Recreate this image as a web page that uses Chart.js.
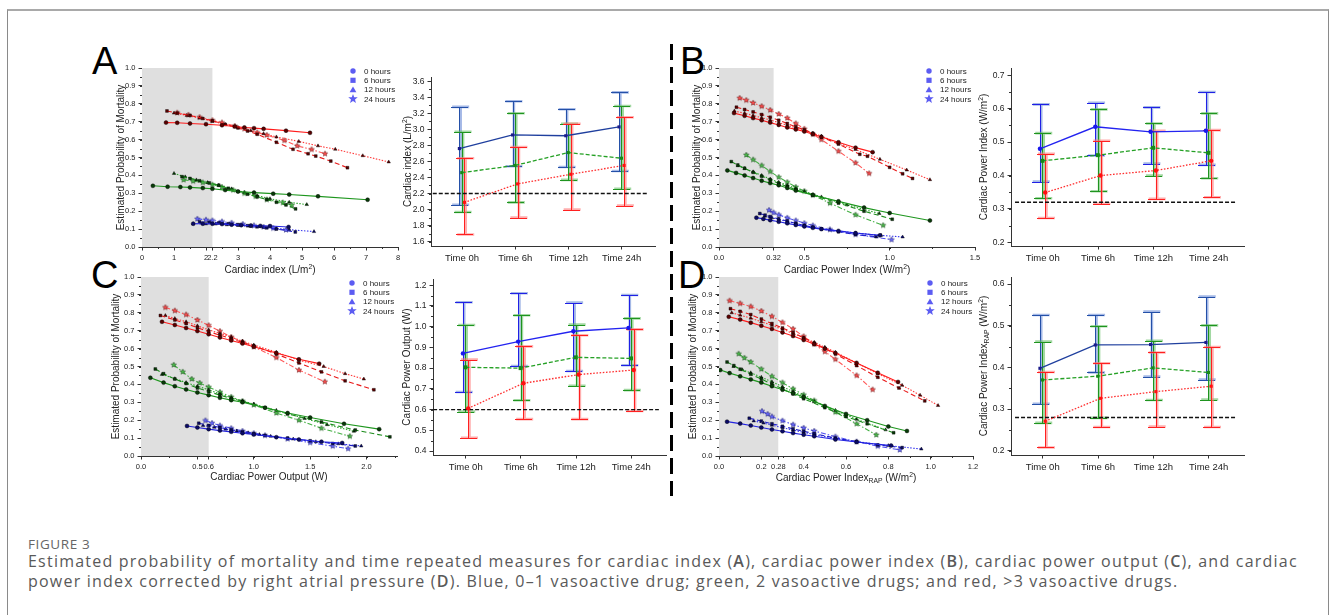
<!DOCTYPE html>
<html><head><meta charset="utf-8">
<script src="https://cdn.jsdelivr.net/npm/chart.js@4/dist/chart.umd.min.js"></script>
<style>
body{margin:0;width:1331px;height:615px;overflow:hidden;background:#fff;position:relative;font-family:'Liberation Sans',Arial,sans-serif}
#frame{position:absolute;left:7px;top:9px;width:1322px;height:660px;border:1px solid #8a8a8a;border-top:2px solid #a9a9a9;box-sizing:border-box}
canvas{position:absolute}
.letter{position:absolute;font-family:'Liberation Sans',Arial,sans-serif;font-size:38px;line-height:38px;color:#000}
#divider{position:absolute;left:670px;top:44px;width:3px;height:452px;background:repeating-linear-gradient(to bottom,#000 0 16px,transparent 16px 23px)}
#fig{position:absolute;left:28px;top:538px;font-family:'Open Sans',sans-serif;font-size:13.5px;line-height:13px;color:#666;letter-spacing:0.6px}
#cap{position:absolute;left:28px;top:551px;width:1300px;font-family:'Open Sans',sans-serif;font-size:16px;line-height:20px;color:#595959;white-space:nowrap;letter-spacing:1.22px}
#cap b{font-weight:600}
</style></head>
<body>
<div id="frame"></div>
<div class="letter" style="left:92px;top:42px">A</div>
<div class="letter" style="left:680px;top:42px">B</div>
<div class="letter" style="left:91px;top:256px">C</div>
<div class="letter" style="left:678px;top:256px">D</div>
<div id="divider"></div>
<div id="fig">FIGURE 3</div>
<div id="cap">Estimated probability of mortality and time repeated measures for cardiac index (<b>A</b>), cardiac power index (<b>B</b>), cardiac power output (<b>C</b>), and cardiac<br>power index corrected by right atrial pressure (<b>D</b>). Blue, 0–1 vasoactive drug; green, 2 vasoactive drugs; and red, &gt;3 vasoactive drugs.</div>
<script>
// ---------------- shared labels ----------------
const HOURS_LABELS = ['0 hours','6 hours','12 hours','24 hours'];
const TIME_LABELS = ['Time 0h','Time 6h','Time 12h','Time 24h'];
const TIME_X = [0,1,2,3];
const SCATTER_YTICKS = [0,0.1,0.2,0.3,0.4,0.5,0.6,0.7,0.8,0.9,1.0];
const SCATTER_YTITLE = [{t:'Estimated Probability of Mortality'}];

// ---------------- Panel A ----------------
const A_XTICKS = [0,1,2,2.2,3,4,5,6,7,8];
const A_XTICK_LABELS = ['0','1','2','2.2','3','4','5','6','7','8'];
const A_THRESHOLD = 2.2;
const A_XTITLE = [{t:'Cardiac index (L/m'},{t:'2',sup:1},{t:')'}];
// each: [0h, 6h, 12h, 24h] lines of [x, probability]
const A_RED = [
 [[0.75,0.695],[1.1,0.694],[1.5,0.69],[2.0,0.686],[2.5,0.68],[2.9,0.673],[3.2,0.668],[3.5,0.664],[3.8,0.66],[4.5,0.65],[5.25,0.638]],
 [[0.78,0.76],[1.1,0.748],[1.5,0.735],[1.9,0.718],[2.2,0.705],[2.6,0.685],[3.0,0.665],[3.3,0.648],[3.6,0.63],[4.2,0.585],[4.72,0.546],[5.19,0.521],[5.43,0.508],[5.9,0.48],[6.42,0.443]],
 [[1.0,0.748],[1.4,0.735],[1.8,0.72],[2.2,0.702],[2.6,0.685],[3.0,0.668],[3.4,0.65],[3.8,0.633],[4.2,0.615],[4.9,0.59],[5.5,0.565],[6.04,0.546],[6.9,0.51],[7.71,0.475]],
 [[1.1,0.75],[1.45,0.738],[1.8,0.725],[2.2,0.708],[2.5,0.695],[2.9,0.676],[3.2,0.66],[3.6,0.64],[3.9,0.625],[4.45,0.595],[4.85,0.565],[5.3,0.545],[5.72,0.521]]
];
const A_GREEN = [
 [[0.34,0.342],[0.8,0.337],[1.2,0.335],[1.5,0.333],[1.9,0.329],[2.2,0.325],[2.6,0.318],[3.0,0.31],[3.5,0.304],[4.1,0.298],[4.6,0.293],[5.5,0.283],[7.05,0.264]],
 [[1.25,0.393],[1.5,0.383],[1.8,0.37],[2.1,0.358],[2.4,0.345],[2.7,0.328],[3.0,0.31],[3.3,0.295],[3.6,0.28],[3.9,0.265],[4.2,0.25],[4.5,0.235],[4.8,0.213]],
 [[1.0,0.411],[1.35,0.392],[1.7,0.375],[2.05,0.36],[2.4,0.345],[2.8,0.325],[3.2,0.305],[3.6,0.287],[4.0,0.27],[4.6,0.25],[5.15,0.237]],
 [[1.3,0.375],[1.6,0.368],[1.9,0.36],[2.2,0.348],[2.5,0.335],[2.85,0.318],[3.2,0.3],[3.55,0.283],[3.9,0.265],[4.4,0.248],[4.68,0.234]]
];
const A_BLUE = [
 [[1.6,0.13],[1.9,0.13],[2.2,0.13],[2.5,0.128],[2.8,0.125],[3.1,0.122],[3.4,0.12],[3.7,0.118],[4.0,0.117],[4.58,0.112]],
 [[1.8,0.14],[2.1,0.138],[2.4,0.135],[2.7,0.13],[3.0,0.125],[3.3,0.119],[3.6,0.113],[3.9,0.107],[4.2,0.1],[4.79,0.084]],
 [[1.6,0.13],[2.0,0.129],[2.3,0.128],[2.65,0.124],[3.0,0.12],[3.4,0.115],[3.8,0.11],[4.2,0.104],[4.6,0.097],[5.375,0.086]],
 [[1.73,0.157],[2.0,0.152],[2.2,0.148],[2.5,0.142],[2.8,0.135],[3.15,0.128],[3.5,0.12],[3.8,0.112],[4.1,0.105],[4.5,0.095]]
];
const A_YTICKS = [1.6,1.8,2.0,2.2,2.4,2.6,2.8,3.0,3.2,3.4,3.6];
const A_YTITLE = [{t:'Cardiac index (L/m'},{t:'2',sup:1},{t:')'}];
const A_REF = 2.2;
const A_MEAN_BLUE = [2.76,2.93,2.92,3.03], A_LO_BLUE = [2.06,2.54,2.53,2.48], A_HI_BLUE = [3.28,3.35,3.25,3.46];
const A_MEAN_GREEN = [2.46,2.55,2.71,2.64], A_LO_GREEN = [1.97,2.09,2.37,2.26], A_HI_GREEN = [2.97,3.20,3.07,3.29];
const A_MEAN_RED = [2.09,2.32,2.44,2.55], A_LO_RED = [1.69,1.90,2.00,2.05], A_HI_RED = [2.64,2.78,3.07,3.15];

// ---------------- Panel B ----------------
const B_XTICKS = [0,0.32,0.5,1.0,1.5];
const B_XTICK_LABELS = ['0.0','0.32','0.5','1.0','1.5'];
const B_THRESHOLD = 0.32;
const B_XTITLE = [{t:'Cardiac Power Index (W/m'},{t:'2',sup:1},{t:')'}];
const B_RED = [
 [[0.088,0.748],[0.15,0.733],[0.2,0.72],[0.25,0.708],[0.3,0.695],[0.35,0.682],[0.4,0.668],[0.45,0.657],[0.5,0.645],[0.55,0.63],[0.6,0.615],[0.7,0.585],[0.8,0.555],[0.9,0.53]],
 [[0.102,0.781],[0.15,0.768],[0.2,0.755],[0.25,0.74],[0.3,0.725],[0.35,0.708],[0.4,0.69],[0.45,0.672],[0.5,0.655],[0.55,0.635],[0.6,0.615],[0.7,0.575],[0.825,0.518],[0.87,0.507],[1.0,0.445],[1.076,0.409],[1.134,0.383]],
 [[0.09,0.76],[0.15,0.747],[0.2,0.735],[0.25,0.722],[0.3,0.71],[0.35,0.695],[0.4,0.68],[0.45,0.665],[0.5,0.65],[0.55,0.635],[0.6,0.62],[0.7,0.58],[0.8,0.545],[0.943,0.49],[1.1,0.43],[1.236,0.376]],
 [[0.121,0.832],[0.16,0.82],[0.2,0.805],[0.25,0.786],[0.3,0.765],[0.35,0.743],[0.4,0.72],[0.45,0.69],[0.5,0.66],[0.55,0.63],[0.6,0.6],[0.7,0.535],[0.8,0.47],[0.88,0.411]]
];
const B_GREEN = [
 [[0.049,0.428],[0.1,0.414],[0.15,0.4],[0.2,0.385],[0.25,0.37],[0.3,0.357],[0.35,0.345],[0.4,0.33],[0.45,0.315],[0.55,0.29],[0.7,0.255],[0.85,0.22],[1.0,0.19],[1.236,0.148]],
 [[0.072,0.477],[0.11,0.458],[0.15,0.44],[0.2,0.417],[0.25,0.395],[0.3,0.375],[0.35,0.355],[0.4,0.337],[0.45,0.32],[0.55,0.29],[0.7,0.245],[0.85,0.2],[1.015,0.155]],
 [[0.111,0.454],[0.15,0.438],[0.2,0.42],[0.25,0.4],[0.3,0.38],[0.35,0.362],[0.4,0.345],[0.45,0.327],[0.5,0.31],[0.6,0.28],[0.75,0.235],[0.939,0.187]],
 [[0.16,0.514],[0.2,0.488],[0.25,0.455],[0.3,0.422],[0.35,0.39],[0.4,0.362],[0.45,0.335],[0.5,0.312],[0.55,0.29],[0.65,0.245],[0.8,0.18],[0.962,0.121]]
];
const B_BLUE = [
 [[0.219,0.164],[0.26,0.157],[0.3,0.15],[0.35,0.141],[0.4,0.132],[0.45,0.123],[0.5,0.115],[0.55,0.107],[0.6,0.1],[0.7,0.09],[0.8,0.078],[0.943,0.065]],
 [[0.239,0.187],[0.27,0.178],[0.3,0.17],[0.35,0.157],[0.4,0.145],[0.45,0.132],[0.5,0.12],[0.55,0.11],[0.6,0.1],[0.7,0.085],[0.8,0.07],[0.92,0.058]],
 [[0.268,0.172],[0.31,0.163],[0.35,0.155],[0.4,0.142],[0.45,0.13],[0.5,0.12],[0.55,0.11],[0.65,0.095],[0.8,0.078],[0.95,0.065],[1.076,0.056]],
 [[0.293,0.206],[0.32,0.192],[0.35,0.18],[0.4,0.163],[0.45,0.148],[0.5,0.133],[0.55,0.12],[0.65,0.098],[0.8,0.07],[1.011,0.041]]
];
const B_YTICKS = [0.2,0.3,0.4,0.5,0.6,0.7];
const B_YTITLE = [{t:'Cardiac Power Index (W/m'},{t:'2',sup:1},{t:')'}];
const B_REF = 0.32;
const B_MEAN_BLUE = [0.480,0.546,0.531,0.534], B_LO_BLUE = [0.382,0.460,0.436,0.432], B_HI_BLUE = [0.613,0.618,0.604,0.650];
const B_MEAN_GREEN = [0.444,0.461,0.483,0.468], B_LO_GREEN = [0.332,0.353,0.400,0.392], B_HI_GREEN = [0.527,0.598,0.556,0.586];
const B_MEAN_RED = [0.349,0.400,0.415,0.444], B_LO_RED = [0.273,0.316,0.330,0.335], B_HI_RED = [0.465,0.504,0.534,0.536];

// ---------------- Panel C ----------------
const C_XTICKS = [0,0.5,0.6,1.0,1.5,2.0];
const C_XTICK_LABELS = ['0.0','0.5','0.6','1.0','1.5','2.0'];
const C_THRESHOLD = 0.6;
const C_XTITLE = [{t:'Cardiac Power Output (W)'}];
const C_RED = [
 [[0.186,0.75],[0.3,0.732],[0.4,0.715],[0.5,0.698],[0.6,0.68],[0.7,0.662],[0.8,0.645],[0.9,0.628],[1.0,0.61],[1.2,0.575],[1.4,0.54],[1.58,0.516]],
 [[0.172,0.785],[0.3,0.76],[0.4,0.74],[0.5,0.717],[0.6,0.695],[0.7,0.675],[0.8,0.655],[0.9,0.635],[1.0,0.615],[1.2,0.57],[1.4,0.52],[1.6,0.47],[1.81,0.42],[2.065,0.37]],
 [[0.216,0.785],[0.3,0.768],[0.4,0.75],[0.5,0.727],[0.6,0.705],[0.7,0.685],[0.8,0.665],[0.9,0.642],[1.0,0.62],[1.2,0.58],[1.4,0.535],[1.62,0.5],[1.81,0.46],[1.976,0.43]],
 [[0.216,0.83],[0.3,0.812],[0.4,0.79],[0.5,0.76],[0.6,0.73],[0.7,0.697],[0.8,0.665],[0.9,0.637],[1.0,0.61],[1.2,0.55],[1.4,0.48],[1.63,0.415]]
];
const C_GREEN = [
 [[0.083,0.437],[0.2,0.41],[0.3,0.39],[0.4,0.372],[0.5,0.355],[0.6,0.34],[0.7,0.325],[0.8,0.312],[0.9,0.3],[1.1,0.27],[1.3,0.24],[1.5,0.215],[1.8,0.18],[2.112,0.15]],
 [[0.127,0.486],[0.2,0.46],[0.3,0.43],[0.4,0.405],[0.5,0.38],[0.6,0.36],[0.7,0.34],[0.8,0.322],[0.9,0.305],[1.1,0.27],[1.3,0.235],[1.6,0.19],[1.9,0.145],[2.207,0.107]],
 [[0.186,0.456],[0.3,0.432],[0.4,0.41],[0.5,0.39],[0.6,0.37],[0.7,0.347],[0.8,0.325],[0.9,0.307],[1.0,0.29],[1.2,0.255],[1.45,0.21],[1.65,0.175],[1.888,0.138]],
 [[0.29,0.509],[0.37,0.47],[0.45,0.43],[0.52,0.408],[0.6,0.385],[0.7,0.357],[0.8,0.33],[0.9,0.307],[1.0,0.285],[1.2,0.24],[1.4,0.2],[1.6,0.155],[1.852,0.11]]
];
const C_BLUE = [
 [[0.408,0.168],[0.5,0.159],[0.6,0.15],[0.7,0.142],[0.8,0.135],[0.9,0.127],[1.0,0.12],[1.2,0.105],[1.4,0.092],[1.6,0.08],[1.784,0.073]],
 [[0.512,0.183],[0.6,0.171],[0.7,0.16],[0.8,0.147],[0.9,0.135],[1.0,0.125],[1.1,0.115],[1.3,0.1],[1.5,0.085],[1.7,0.07],[1.9,0.056]],
 [[0.55,0.17],[0.65,0.16],[0.75,0.15],[0.85,0.14],[0.95,0.13],[1.05,0.12],[1.15,0.11],[1.35,0.095],[1.55,0.08],[1.75,0.068],[1.953,0.056]],
 [[0.571,0.198],[0.63,0.184],[0.7,0.17],[0.8,0.155],[0.9,0.14],[1.0,0.127],[1.1,0.115],[1.3,0.095],[1.5,0.075],[1.7,0.055],[1.837,0.041]]
];
const C_YTICKS = [0.4,0.5,0.6,0.7,0.8,0.9,1.0,1.1,1.2];
const C_YTITLE = [{t:'Cardiac Power Output (W)'}];
const C_REF = 0.6;
const C_MEAN_BLUE = [0.871,0.928,0.978,0.994], C_LO_BLUE = [0.685,0.810,0.786,0.814], C_HI_BLUE = [1.118,1.161,1.116,1.153];
const C_MEAN_GREEN = [0.804,0.800,0.852,0.847], C_LO_GREEN = [0.590,0.645,0.715,0.694], C_HI_GREEN = [1.008,1.055,1.010,1.040];
const C_MEAN_RED = [0.606,0.727,0.769,0.791], C_LO_RED = [0.464,0.554,0.554,0.593], C_HI_RED = [0.841,0.905,0.959,0.987];

// ---------------- Panel D ----------------
const D_XTICKS = [0,0.2,0.28,0.4,0.6,0.8,1.0,1.2];
const D_XTICK_LABELS = ['0.0','0.2','0.28','0.4','0.6','0.8','1.0','1.2'];
const D_THRESHOLD = 0.28;
const D_XTITLE = [{t:'Cardiac Power Index'},{t:'RAP',sub:1},{t:' (W/m'},{t:'2',sup:1},{t:')'}];
const D_RED = [
 [[0.046,0.778],[0.1,0.762],[0.15,0.745],[0.2,0.728],[0.25,0.71],[0.3,0.69],[0.35,0.67],[0.4,0.648],[0.45,0.625],[0.5,0.6],[0.55,0.575],[0.65,0.52],[0.75,0.465],[0.846,0.414]],
 [[0.054,0.823],[0.1,0.808],[0.15,0.79],[0.2,0.765],[0.25,0.74],[0.3,0.715],[0.35,0.69],[0.4,0.66],[0.45,0.63],[0.5,0.6],[0.55,0.57],[0.65,0.505],[0.75,0.44],[0.85,0.38],[0.972,0.308]],
 [[0.06,0.8],[0.1,0.787],[0.15,0.77],[0.2,0.75],[0.25,0.73],[0.3,0.708],[0.35,0.685],[0.4,0.66],[0.45,0.635],[0.5,0.608],[0.55,0.58],[0.65,0.52],[0.75,0.46],[0.865,0.395],[0.95,0.34],[1.035,0.282]],
 [[0.05,0.868],[0.1,0.852],[0.15,0.835],[0.2,0.81],[0.25,0.78],[0.3,0.746],[0.35,0.71],[0.4,0.668],[0.45,0.625],[0.5,0.583],[0.55,0.54],[0.65,0.45],[0.726,0.371]]
];
const D_GREEN = [
 [[0.006,0.48],[0.05,0.463],[0.1,0.445],[0.15,0.428],[0.2,0.41],[0.25,0.39],[0.3,0.37],[0.35,0.35],[0.4,0.33],[0.5,0.28],[0.6,0.235],[0.7,0.2],[0.8,0.165],[0.888,0.14]],
 [[0.038,0.525],[0.07,0.505],[0.1,0.485],[0.15,0.457],[0.2,0.43],[0.25,0.402],[0.3,0.375],[0.35,0.347],[0.4,0.32],[0.5,0.27],[0.6,0.22],[0.7,0.18],[0.825,0.13]],
 [[0.069,0.5],[0.11,0.482],[0.15,0.465],[0.2,0.44],[0.25,0.415],[0.3,0.387],[0.35,0.36],[0.4,0.332],[0.45,0.305],[0.55,0.255],[0.65,0.205],[0.787,0.146]],
 [[0.093,0.571],[0.12,0.548],[0.15,0.525],[0.2,0.485],[0.25,0.445],[0.3,0.41],[0.35,0.375],[0.4,0.342],[0.45,0.31],[0.55,0.245],[0.65,0.18],[0.743,0.118]]
];
const D_BLUE = [
 [[0.038,0.192],[0.1,0.181],[0.15,0.17],[0.2,0.159],[0.25,0.148],[0.3,0.138],[0.35,0.128],[0.4,0.119],[0.45,0.11],[0.55,0.092],[0.65,0.078],[0.813,0.058]],
 [[0.143,0.211],[0.2,0.195],[0.25,0.18],[0.3,0.166],[0.35,0.152],[0.4,0.138],[0.45,0.125],[0.55,0.1],[0.65,0.08],[0.75,0.062],[0.865,0.047]],
 [[0.164,0.196],[0.21,0.184],[0.25,0.172],[0.3,0.158],[0.35,0.145],[0.4,0.132],[0.45,0.12],[0.55,0.098],[0.65,0.08],[0.8,0.058],[0.956,0.039]],
 [[0.203,0.25],[0.23,0.234],[0.25,0.22],[0.3,0.197],[0.35,0.175],[0.4,0.157],[0.45,0.14],[0.55,0.108],[0.65,0.08],[0.75,0.055],[0.854,0.034]]
];
const D_YTICKS = [0.2,0.3,0.4,0.5,0.6];
const D_YTITLE = [{t:'Cardiac Power Index'},{t:'RAP',sub:1},{t:' (W/m'},{t:'2',sup:1},{t:')'}];
const D_REF = 0.28;
const D_MEAN_BLUE = [0.398,0.454,0.455,0.460], D_LO_BLUE = [0.313,0.388,0.378,0.371], D_HI_BLUE = [0.526,0.526,0.534,0.570];
const D_MEAN_GREEN = [0.370,0.379,0.399,0.388], D_LO_GREEN = [0.267,0.279,0.322,0.323], D_HI_GREEN = [0.462,0.499,0.464,0.501];
const D_MEAN_RED = [0.271,0.326,0.342,0.355], D_LO_RED = [0.208,0.257,0.258,0.257], D_HI_RED = [0.389,0.410,0.436,0.449];

// ---------------- helpers ----------------
const FAM = "'Liberation Sans', Arial, Helvetica, sans-serif";
Chart.defaults.font.family = FAM;
Chart.defaults.color = '#222';
Chart.defaults.animation = false;

function starPath(ctx,x,y,R,r){ctx.beginPath();for(let k=0;k<10;k++){const a=-Math.PI/2+k*Math.PI/5;const d=k%2?r:R;ctx.lineTo(x+d*Math.cos(a),y+d*Math.sin(a));}ctx.closePath();}
function starImg(fill,stroke,R){const c=document.createElement('canvas');const s=Math.ceil(R*2+2);c.width=s;c.height=s;const g=c.getContext('2d');starPath(g,s/2,s/2,R,R*0.45);g.fillStyle=fill;g.fill();g.lineWidth=0.5;g.strokeStyle=stroke;g.stroke();return c;}

function drawRich(ctx,segs,size,cx,cy,rot){
  ctx.save();ctx.translate(cx,cy);if(rot)ctx.rotate(-Math.PI/2);
  const base=size+'px '+FAM, small=(size*0.68).toFixed(2)+'px '+FAM;
  let total=0;for(const s of segs){ctx.font=(s.sub||s.sup)?small:base;total+=ctx.measureText(s.t).width;}
  let x=-total/2;ctx.textBaseline='middle';ctx.textAlign='left';ctx.fillStyle='#222';
  for(const s of segs){ctx.font=(s.sub||s.sup)?small:base;const dy=s.sub?size*0.32:(s.sup?-size*0.33:0);ctx.fillText(s.t,x,dy);x+=ctx.measureText(s.t).width;}
  ctx.restore();
}
function titlePlugin(xSegs,ySegs,xOff,yOff){return{id:'richTitles',afterDraw(ch){const a=ch.chartArea,ctx=ch.ctx;
  if(xSegs)drawRich(ctx,xSegs,10,(a.left+a.right)/2,a.bottom+xOff,false);
  if(ySegs)drawRich(ctx,ySegs,10,a.left-yOff,(a.top+a.bottom)/2,true);}};}
function minorPlugin(steps){return{id:'minorTicks',afterDraw(ch){const ctx=ch.ctx;ctx.save();ctx.strokeStyle='#333';ctx.lineWidth=1;
  for(const ax in steps){const s=ch.scales[ax],st=steps[ax];const i0=Math.ceil(s.min/st-1e-6),i1=Math.floor(s.max/st+1e-6);
    for(let i=i0;i<=i1;i++){const p=Math.round(s.getPixelForValue(i*st))+0.5;ctx.beginPath();
      if(ax==='y'){ctx.moveTo(s.right,p);ctx.lineTo(s.right-2,p);}else{ctx.moveTo(p,s.top);ctx.lineTo(p,s.top+2);}ctx.stroke();}}
  ctx.restore();}};}
function axisCfg(min,max,ticks,labelFn,size,fit){return{type:'linear',min,max,bounds:'data',
  afterBuildTicks:s=>{s.ticks=ticks.map(v=>({value:v}));},afterFit:fit,
  grid:{display:true,drawOnChartArea:false,drawTicks:true,tickLength:3.5,tickWidth:1,tickColor:'#333'},
  border:{display:true,color:'#333',width:1},
  ticks:{autoSkip:false,maxRotation:0,minRotation:0,padding:3,color:'#222',font:{size},callback:(v,i)=>labelFn(v,i)}};}

function placeCanvas(area){const yW=42,pt=10,pr=16,xH=34;const c=document.createElement('canvas');
  c.width=(area.R-area.L)+yW+pr;c.height=(area.B-area.T)+pt+xH;c.style.left=(area.L-yW)+'px';c.style.top=(area.T-pt)+'px';
  document.body.appendChild(c);return {c,yW,pt,pr,xH};}

const PAL = {
  red:{line:['#ff1c1c','#e81818','#ff3a3a','#ff5a5a'],pt:'#5a0000',star:'#ff5050'},
  green:{line:['#1e961e','#1c8c1c','#2aa52a','#45b045'],pt:'#083a08',star:'#4cbc4c'},
  blue:{line:['#2424e0','#2020c8','#3434ee','#5050f0'],pt:'#0a0a66',star:'#6a6aff'}
};
const DASH = [[],[5,3],[1.5,1.5],[5,2,1.5,2]];
const PSTYLE = ['circle','rect','triangle',null];

function makeScatter(o){
  const {c,yW,pt,pr,xH}=placeCanvas(o.area);
  const datasets=[];
  [['blue',o.blue],['green',o.green],['red',o.red]].forEach(([col,lines])=>{
    const p=PAL[col];
    lines.forEach((pts,t)=>{
      const ds={data:pts.map(([x,y])=>({x,y})),showLine:true,borderColor:p.line[t],borderWidth:1.1,borderDash:DASH[t],fill:false,tension:0,
        pointRadius:2,pointBackgroundColor:p.pt,pointBorderColor:'#000',pointBorderWidth:0.4,pointStyle:PSTYLE[t]};
      if(t===3){ds.pointStyle=starImg(p.star,p.pt,2.8);}
      datasets.push(ds);
    });
  });
  const band={id:'band',beforeDatasetsDraw(ch){const x=ch.scales.x,y=ch.scales.y,ctx=ch.ctx;const x0=x.getPixelForValue(0),x1=x.getPixelForValue(o.threshold);
    const y0=y.getPixelForValue(1),y1=y.getPixelForValue(0);ctx.save();ctx.fillStyle='#dfdfdf';ctx.fillRect(x0,y0,x1-x0,y1-y0);ctx.restore();}};
  const legend={id:'lg',afterDraw(ch){const a=ch.chartArea,ctx=ch.ctx;const sx=a.right+o.legDx;ctx.save();
    HOURS_LABELS.forEach((lab,i)=>{const y=a.top+o.legDy+i*9.3;ctx.fillStyle='#5c5cf2';
      if(i===0){ctx.beginPath();ctx.arc(sx,y,2.7,0,Math.PI*2);ctx.fill();}
      else if(i===1){ctx.fillRect(sx-2.6,y-2.6,5.2,5.2);}
      else if(i===2){ctx.beginPath();ctx.moveTo(sx,y-3.2);ctx.lineTo(sx+3.4,y+2.6);ctx.lineTo(sx-3.4,y+2.6);ctx.closePath();ctx.fill();}
      else{starPath(ctx,sx,y,5,2.1);ctx.fill();}
      ctx.fillStyle='#222';ctx.font='8px '+FAM;ctx.textBaseline='middle';ctx.textAlign='left';ctx.fillText(lab,sx+11,y+0.5);});
    ctx.restore();}};
  new Chart(c,{type:'scatter',data:{datasets},
    options:{responsive:false,animation:false,layout:{padding:{top:pt,right:pr,left:0,bottom:0}},
      plugins:{legend:{display:false},tooltip:{enabled:false}},
      scales:{
        x:axisCfg(0,o.xMax,o.xTicks,(v,i)=>o.xLabels[i],7.5,s=>{s.height=xH;}),
        y:axisCfg(0,1.0,SCATTER_YTICKS,v=>v.toFixed(1),7.5,s=>{s.width=yW;})
      }},
    plugins:[band,minorPlugin({x:o.xMinor,y:0.05}),titlePlugin(o.xTitle,SCATTER_YTITLE,o.xTitleOff,o.yTitleOff),legend]});
}

function makeBar(o){
  const {c,yW,pt,pr,xH}=placeCanvas(o.area);
  const datasets=o.series.map(s=>({data:s.mean.map((m,i)=>({x:TIME_X[i]+s.off,y:m})),showLine:true,borderColor:s.line,borderWidth:1.3,
    borderDash:s.dash,fill:false,tension:0,pointStyle:s.ps,pointRadius:s.pr,pointBackgroundColor:s.mk,pointBorderColor:s.mk,pointBorderWidth:0}));
  const err={id:'err',beforeDatasetsDraw(ch){const x=ch.scales.x,y=ch.scales.y,ctx=ch.ctx;ctx.save();
    const bar=(px,pt2,pb,w)=>{ctx.beginPath();ctx.moveTo(px,pt2);ctx.lineTo(px,pb);ctx.moveTo(px-w,pt2);ctx.lineTo(px+w,pt2);ctx.moveTo(px-w,pb);ctx.lineTo(px+w,pb);ctx.stroke();};
    o.series.forEach(s=>{s.mean.forEach((m,i)=>{const px=x.getPixelForValue(TIME_X[i]+s.off);const ph=y.getPixelForValue(s.hi[i]),pl=y.getPixelForValue(s.lo[i]);
      ctx.strokeStyle=s.light;ctx.lineWidth=2.6;bar(px+1.3,ph,pl,8.5);
      ctx.strokeStyle=s.dark;ctx.lineWidth=1;bar(Math.round(px)+0.5,Math.round(ph)+0.5,Math.round(pl)+0.5,8.5);});});
    const py=y.getPixelForValue(o.ref);ctx.setLineDash([4,2]);ctx.lineWidth=1.3;ctx.strokeStyle='#111';ctx.beginPath();
    ctx.moveTo(x.getPixelForValue(o.refFrom),py);ctx.lineTo(x.getPixelForValue(3.5),py);ctx.stroke();ctx.restore();}};
  new Chart(c,{type:'scatter',data:{datasets},
    options:{responsive:false,animation:false,layout:{padding:{top:pt,right:pr,left:0,bottom:0}},
      plugins:{legend:{display:false},tooltip:{enabled:false}},
      scales:{
        x:axisCfg(o.xMin,o.xMax,TIME_X,(v,i)=>TIME_LABELS[i],9.5,s=>{s.height=xH;}),
        y:axisCfg(o.yMin,o.yMax,o.yTicks,v=>v.toFixed(1),8.5,s=>{s.width=yW;})
      }},
    plugins:[err,minorPlugin({y:o.yMinor}),titlePlugin(null,o.yTitle,0,o.yTitleOff)]});
}
function series(meanB,loB,hiB,meanG,loG,hiG,meanR,loR,hiR,dark){
  const blueLine=dark?'#1f3f9e':'#2323f0', blueMk=dark?'#1a1a8a':'#1818ee';
  return [
    {mean:meanB,lo:loB,hi:hiB,off:-0.05,line:blueLine,dash:[],ps:dark?'rect':'circle',pr:2.2,mk:blueMk,light:'rgba(90,125,210,0.55)',dark:dark?'#2450a8':'#2020e6'},
    {mean:meanG,lo:loG,hi:hiG,off:-0.005,line:'#24a024',dash:[4,2],ps:'rect',pr:dark?2.2:2.8,mk:'#168a16',light:'rgba(100,190,100,0.6)',dark:'#1f941f'},
    {mean:meanR,lo:loR,hi:hiR,off:0.045,line:'#ff3030',dash:[1.6,1.6],ps:dark?'rect':'circle',pr:2.2,mk:'#ff1010',light:'rgba(255,120,120,0.6)',dark:'#ff2020'}
  ];
}

// ---------------- build ----------------
makeScatter({area:{L:142,R:398,T:68,B:247},xMax:8,xTicks:A_XTICKS,xLabels:A_XTICK_LABELS,xMinor:0.5,threshold:A_THRESHOLD,
  red:A_RED,green:A_GREEN,blue:A_BLUE,xTitle:A_XTITLE,xTitleOff:23,yTitleOff:21,legDx:-45,legDy:3});
makeBar({area:{L:431,R:655,T:77,B:246},xMin:-0.583,xMax:3.626,yMin:1.546,yMax:3.652,yTicks:A_YTICKS,yMinor:0.1,ref:A_REF,refFrom:-0.55,
  yTitle:A_YTITLE,yTitleOff:23,series:series(A_MEAN_BLUE,A_LO_BLUE,A_HI_BLUE,A_MEAN_GREEN,A_LO_GREEN,A_HI_GREEN,A_MEAN_RED,A_LO_RED,A_HI_RED,true)});
makeScatter({area:{L:719,R:975,T:68,B:247},xMax:1.5,xTicks:B_XTICKS,xLabels:B_XTICK_LABELS,xMinor:0.25,threshold:B_THRESHOLD,
  red:B_RED,green:B_GREEN,blue:B_BLUE,xTitle:B_XTITLE,xTitleOff:23,yTitleOff:22,legDx:-46,legDy:3});
makeBar({area:{L:1011,R:1244,T:68,B:246},xMin:-0.573,xMax:3.638,yMin:0.189,yMax:0.722,yTicks:B_YTICKS,yMinor:0.05,ref:B_REF,refFrom:-0.5,
  yTitle:B_YTITLE,yTitleOff:27,series:series(B_MEAN_BLUE,B_LO_BLUE,B_HI_BLUE,B_MEAN_GREEN,B_LO_GREEN,B_HI_GREEN,B_MEAN_RED,B_LO_RED,B_HI_RED,false)});
makeScatter({area:{L:141,R:397,T:277,B:456},xMax:2.27,xTicks:C_XTICKS,xLabels:C_XTICK_LABELS,xMinor:0.25,threshold:C_THRESHOLD,
  red:C_RED,green:C_GREEN,blue:C_BLUE,xTitle:C_XTITLE,xTitleOff:21,yTitleOff:25,legDx:-45,legDy:6});
makeBar({area:{L:433,R:666,T:279,B:455},xMin:-0.592,xMax:3.629,yMin:0.381,yMax:1.23,yTicks:C_YTICKS,yMinor:0.05,ref:C_REF,refFrom:-0.59,
  yTitle:C_YTITLE,yTitleOff:26,series:series(C_MEAN_BLUE,C_LO_BLUE,C_HI_BLUE,C_MEAN_GREEN,C_LO_GREEN,C_HI_GREEN,C_MEAN_RED,C_LO_RED,C_HI_RED,false)});
makeScatter({area:{L:719,R:973,T:277,B:456},xMax:1.2,xTicks:D_XTICKS,xLabels:D_XTICK_LABELS,xMinor:0.1,threshold:D_THRESHOLD,
  red:D_RED,green:D_GREEN,blue:D_BLUE,xTitle:D_XTITLE,xTitleOff:22,yTitleOff:26,legDx:-43,legDy:6});
makeBar({area:{L:1011,R:1244,T:277,B:455},xMin:-0.573,xMax:3.638,yMin:0.19,yMax:0.617,yTicks:D_YTICKS,yMinor:0.05,ref:D_REF,refFrom:-0.5,
  yTitle:D_YTITLE,yTitleOff:27,series:series(D_MEAN_BLUE,D_LO_BLUE,D_HI_BLUE,D_MEAN_GREEN,D_LO_GREEN,D_HI_GREEN,D_MEAN_RED,D_LO_RED,D_HI_RED,true)});
</script>
</body></html>
